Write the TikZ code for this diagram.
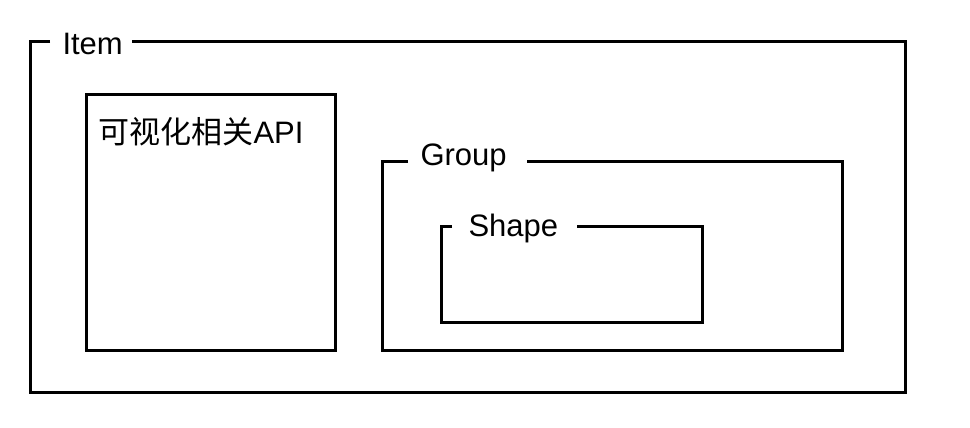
\documentclass[tikz,border=0pt]{standalone}
\usepackage{fontspec}
\setmainfont{Liberation Sans}
\newfontfamily\cjk{Noto Sans CJK SC}
\begin{document}
\begin{tikzpicture}[x=1pt,y=-1pt,line width=3pt,
  lbl/.style={font=\fontsize{31}{36}\selectfont,inner sep=0pt,anchor=west}]
\useasboundingbox (0,0) rectangle (970,428);
% Item
\draw (50,42) -- (30,42) -- (30,392) -- (905,392) -- (905,42) -- (132,42);
\node[lbl] (item) at (61,44) {Item};
% left box
\draw (86,95) rectangle (335,350);
\node[lbl] (api) at (97,132) {{\cjk 可视化相关}API};
% Group
\draw (408,161) -- (382,161) -- (382,350) -- (842,350) -- (842,161) -- (527,161);
\node[lbl] (group) at (419,158) {Group};
% Shape
\draw (452,226) -- (441,226) -- (441,322) -- (702,322) -- (702,226) -- (577,226);
\node[lbl] (shape) at (467,228) {Shape};
\end{tikzpicture}
\end{document}
